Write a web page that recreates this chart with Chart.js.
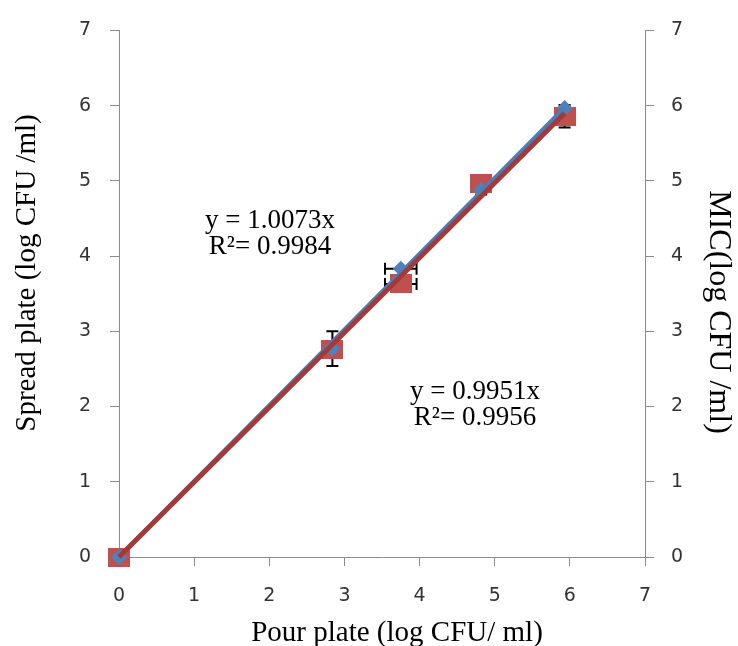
<!DOCTYPE html>
<html><head><meta charset="utf-8">
<script src="https://cdn.jsdelivr.net/npm/chart.js@4.4.0/dist/chart.umd.min.js"></script>
<style>html,body{margin:0;padding:0;background:#fff}#wrap{width:738px;height:646px}</style>
</head><body><div id="wrap"><canvas id="c" width="738" height="646"></canvas></div>
<script>
// ---- data ----
const pourPlate   = [0, 2.84, 3.75, 4.82, 5.93];
const spreadPlate = [0, 2.77, 3.83, 4.88, 5.97];
const micValues   = [0, 2.76, 3.63, 4.96, 5.86];
const spreadErrX  = [0, 0, 0.21, 0, 0];
const spreadErrY  = [0, 0.23, 0, 0.06, 0];
const micErrX     = [0, 0, 0.21, 0, 0];
const micErrY     = [0, 0, 0, 0, 0.15];
const spreadTrendX = [0, 5.93];
const spreadTrendY = [0, 5.97];
const micTrendX    = [0, 5.93];
const micTrendY    = [0, 5.90];
const tickValues  = [0, 1, 2, 3, 4, 5, 6, 7];
const xTitle  = 'Pour plate (log CFU/ ml)';
const yTitle  = 'Spread plate (log CFU /ml)';
const y2Title = 'MIC(log CFU /ml)';
const spreadEq = ['y = 1.0073x', 'R²= 0.9984'];
const micEq    = ['y = 0.9951x', 'R²= 0.9956'];

const toPts = (xs, ys) => xs.map((x, i) => ({x: x, y: ys[i]}));

const sq = document.createElement('canvas');
sq.width = 22; sq.height = 19;
(function(){ const g = sq.getContext('2d'); g.fillStyle = '#C0504D'; g.fillRect(0, 0, 22, 19); })();

const SERIF = '"Liberation Serif","Times New Roman",serif';

const errorBars = {
  id: 'errorBars',
  beforeDatasetsDraw(chart) {
    const ctx = chart.ctx, sx = chart.scales.x;
    const sets = [
      {ys: spreadPlate, ex: spreadErrX, ey: spreadErrY, sc: chart.scales.y},
      {ys: micValues, ex: micErrX, ey: micErrY, sc: chart.scales.y2}
    ];
    ctx.save();
    ctx.strokeStyle = '#000'; ctx.lineWidth = 2;
    const cap = 6;
    sets.forEach(s => {
      pourPlate.forEach((xv, i) => {
        const px = sx.getPixelForValue(xv), py = s.sc.getPixelForValue(s.ys[i]);
        if (s.ey[i] > 0) {
          const t = s.sc.getPixelForValue(s.ys[i] + s.ey[i]);
          const b = s.sc.getPixelForValue(s.ys[i] - s.ey[i]);
          ctx.beginPath();
          ctx.moveTo(px, t); ctx.lineTo(px, b);
          ctx.moveTo(px - cap, t); ctx.lineTo(px + cap, t);
          ctx.moveTo(px - cap, b); ctx.lineTo(px + cap, b);
          ctx.stroke();
        }
        if (s.ex[i] > 0) {
          const l = sx.getPixelForValue(xv - s.ex[i]);
          const r = sx.getPixelForValue(xv + s.ex[i]);
          ctx.beginPath();
          ctx.moveTo(l, py); ctx.lineTo(r, py);
          ctx.moveTo(l, py - cap); ctx.lineTo(l, py + cap);
          ctx.moveTo(r, py - cap); ctx.lineTo(r, py + cap);
          ctx.stroke();
        }
      });
    });
    ctx.restore();
  }
};

const texts = {
  id: 'texts',
  afterDraw(chart) {
    const ctx = chart.ctx;
    ctx.save();
    ctx.fillStyle = '#000';
    ctx.textBaseline = 'alphabetic';
    ctx.textAlign = 'center';
    // axis titles
    ctx.font = '29px ' + SERIF;
    ctx.fillText(xTitle, 397, 641);
    ctx.save(); ctx.translate(35, 273); ctx.rotate(-Math.PI / 2); ctx.fillText(yTitle, 0, 0); ctx.restore();
    ctx.font = '32px ' + SERIF;
    ctx.save(); ctx.translate(710, 312); ctx.rotate(Math.PI / 2); ctx.fillText(y2Title, 0, 0); ctx.restore();
    // equations
    ctx.font = '27px ' + SERIF;
    ctx.fillText(spreadEq[0], 270, 228);
    ctx.fillText(spreadEq[1], 270, 254);
    ctx.fillText(micEq[0], 475, 399);
    ctx.fillText(micEq[1], 475, 425);
    ctx.restore();
  }
};

const axisCommon = (pos) => ({
  type: 'linear', position: pos, min: 0, max: 7,
  afterBuildTicks: (s) => { s.ticks = tickValues.map(v => ({value: v})); },
  grid: {display: true, drawOnChartArea: false, drawTicks: true, tickLength: 9, color: '#8c8c8c', lineWidth: 1},
  border: {display: true, color: '#8c8c8c', width: 1},
  ticks: {color: '#333', font: {family: '"DejaVu Sans", Verdana, sans-serif', size: 19}},
  title: {display: false}
});

const xAxis = axisCommon('bottom');
xAxis.ticks.padding = 19;
xAxis.afterFit = (s) => { s.height = 89; };
const yAxis = axisCommon('left');
yAxis.ticks.padding = 19;
yAxis.afterFit = (s) => { s.width = 119; };
const y2Axis = axisCommon('right');
y2Axis.ticks.padding = 17;
y2Axis.afterFit = (s) => { s.width = 93; };

new Chart(document.getElementById('c'), {
  type: 'scatter',
  data: {
    datasets: [
      {label: 'MIC', data: toPts(pourPlate, micValues), yAxisID: 'y2', pointStyle: sq, pointRadius: 11, pointHoverRadius: 11, order: 4, clip: false},
      {label: 'Spread plate', data: toPts(pourPlate, spreadPlate), yAxisID: 'y', pointStyle: 'rectRot', pointRadius: 8, pointHoverRadius: 8, backgroundColor: '#4F81BD', borderWidth: 0, order: 3, clip: false},
      {label: 'Spread trend', data: toPts(spreadTrendX, spreadTrendY), yAxisID: 'y', showLine: true, pointRadius: 0, borderColor: '#4A7EBB', borderWidth: 4.5, order: 2, clip: false},
      {label: 'MIC trend', data: toPts(micTrendX, micTrendY), yAxisID: 'y2', showLine: true, pointRadius: 0, borderColor: '#A33A3A', borderWidth: 5, order: 1, clip: false}
    ]
  },
  options: {
    responsive: false, animation: false,
    layout: {padding: {top: 27, left: 0, right: 0, bottom: 0}},
    plugins: {legend: {display: false}, tooltip: {enabled: false}},
    scales: {x: xAxis, y: yAxis, y2: y2Axis}
  },
  plugins: [errorBars, texts]
});
</script></body></html>
